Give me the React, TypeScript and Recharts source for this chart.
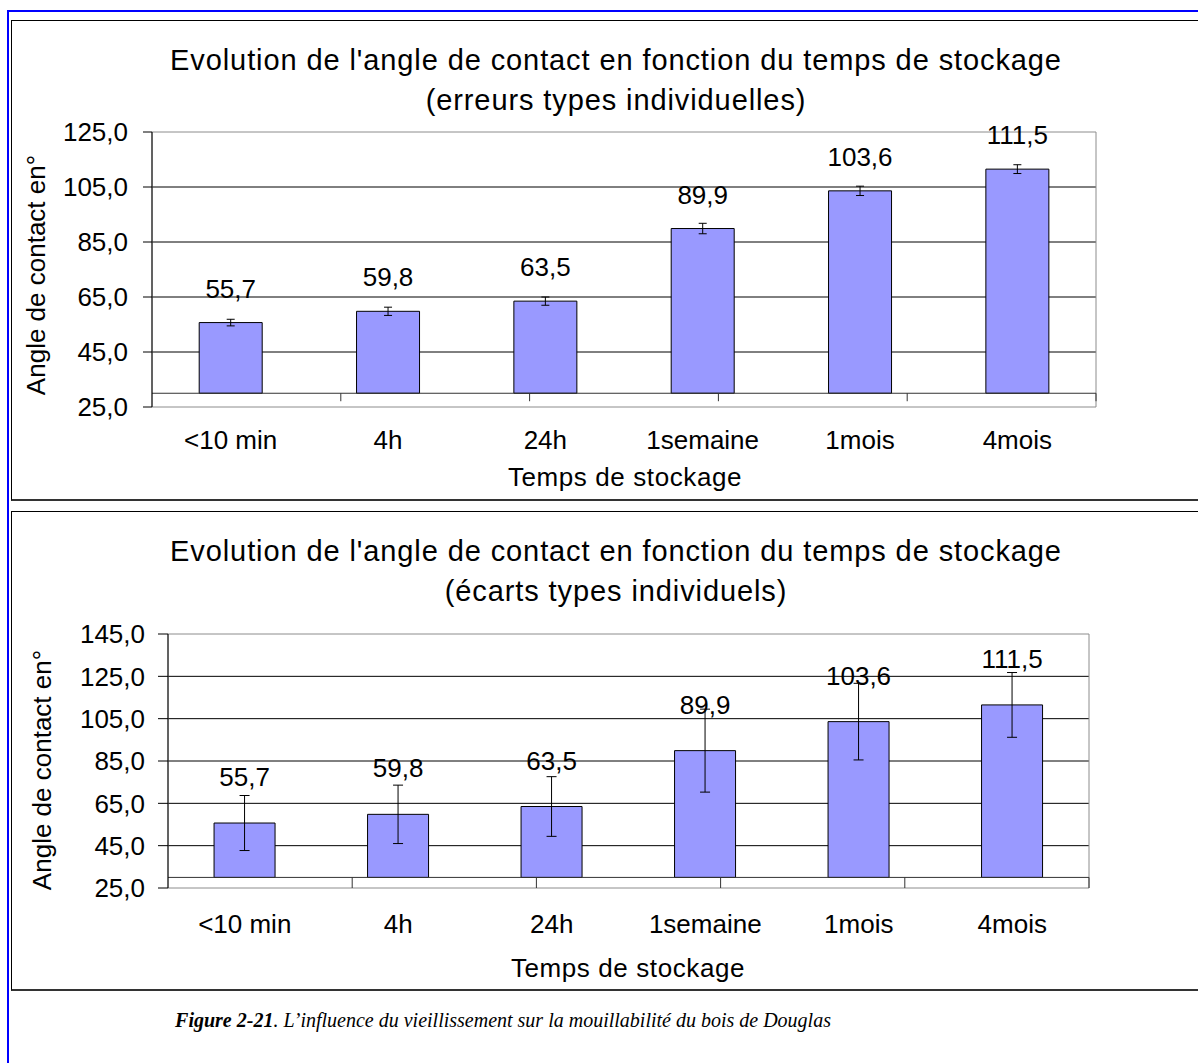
import {
  Bar,
  BarChart,
  CartesianGrid,
  ErrorBar,
  LabelList,
  ReferenceArea,
  ReferenceLine,
  XAxis,
  YAxis,
} from "recharts"

const categories = ["<10 min", "4h", "24h", "1semaine", "1mois", "4mois"]
const angles = [55.7, 59.8, 63.5, 89.9, 103.6, 111.5]
// top chart: standard errors, bottom chart: standard deviations
const standardErrors = [1.2, 1.5, 1.5, 1.9, 1.7, 1.6]
const standardDeviations = [13.0, 13.8, 14.1, 19.6, 18.1, 15.3]
const axisCrossing = 30
const topTicks = [25, 45, 65, 85, 105, 125]
const bottomTicks = [25, 45, 65, 85, 105, 125, 145]

const sans = '"Liberation Sans", Arial, sans-serif'
const serif = '"Liberation Serif", "Times New Roman", serif'

const formatAngle = (v: unknown) => Number(v).toFixed(1).replace(".", ",")

type AngleChartProps = {
  errors: number[]
  ticks: number[]
  height: number
  margin: { top: number; right: number; bottom: number; left: number }
  yTickSize: number
  yTickMargin: number
  xTickMargin: number
  labelOffset: number
  capWidth: number
  tickDrop: number
}

function AngleChart({
  errors,
  ticks,
  height,
  margin,
  yTickSize,
  yTickMargin,
  xTickMargin,
  labelOffset,
  capWidth,
  tickDrop,
}: AngleChartProps) {
  const data = categories.map((name, i) => ({
    name,
    range: [axisCrossing, angles[i]],
    angle: angles[i],
    err: errors[i],
  }))
  const boundaries = categories.map((_, i) => i + 1)
  const lo = ticks[0]
  const hi = ticks[ticks.length - 1]

  return (
    <BarChart
      width={1187}
      height={height}
      data={data}
      margin={margin}
      barCategoryGap="30%"
    >
      <CartesianGrid
        vertical={false}
        horizontalValues={ticks.slice(1, -1)}
        stroke="#000"
      />
      <ReferenceArea
        y1={lo}
        y2={hi}
        fill="none"
        stroke="#8c8c8c"
        ifOverflow="visible"
      />
      <XAxis
        dataKey="name"
        axisLine={false}
        tickLine={false}
        tickSize={0}
        tickMargin={xTickMargin}
        height={60}
        interval={0}
        tick={{ fontSize: 26, fill: "#000", fontFamily: sans }}
      />
      <XAxis
        xAxisId="n"
        type="number"
        domain={[0, categories.length]}
        allowDataOverflow
        hide
      />
      <YAxis
        domain={[lo, hi]}
        ticks={ticks}
        interval={0}
        allowDataOverflow
        width={100}
        tickSize={yTickSize}
        tickMargin={yTickMargin}
        axisLine={{ stroke: "#000" }}
        tickLine={{ stroke: "#000" }}
        tickFormatter={formatAngle}
        tick={{ fontSize: 26, fill: "#000", fontFamily: sans }}
      />
      <ReferenceLine y={axisCrossing} stroke="#333" />
      {boundaries.map(b => (
        <ReferenceLine
          key={b}
          xAxisId="n"
          segment={[
            { x: b, y: axisCrossing },
            { x: b, y: axisCrossing - tickDrop },
          ]}
          stroke="#333"
          ifOverflow="visible"
        />
      ))}
      <Bar
        dataKey="range"
        fill="#9999ff"
        stroke="#000"
        strokeWidth={1}
        isAnimationActive={false}
      >
        <ErrorBar
          dataKey="err"
          direction="y"
          width={capWidth}
          stroke="#000"
          strokeWidth={1}
          isAnimationActive={false}
        />
        <LabelList
          dataKey="angle"
          position="top"
          offset={labelOffset}
          formatter={formatAngle}
          fill="#000"
          fontSize={26}
          fontFamily={sans}
        />
      </Bar>
    </BarChart>
  )
}

const abs = (left: number, top: number, extra = {}) => ({
  position: "absolute" as const,
  left,
  top,
  ...extra,
})

function Title({ top, lines }: { top: number; lines: string[] }) {
  return (
    <div
      style={abs(11, top, {
        width: 1210,
        textAlign: "center",
        fontSize: 29,
        letterSpacing: "0.9px",
        lineHeight: "40px",
        fontFamily: sans,
        color: "#000",
      })}
    >
      {lines.map(l => (
        <div key={l}>{l}</div>
      ))}
    </div>
  )
}

function AxisTitle({ cx, cy, text, rotate }: { cx: number; cy: number; text: string; rotate?: boolean }) {
  return (
    <div
      style={abs(cx - 200, cy - 15, {
        width: 400,
        height: 30,
        lineHeight: "30px",
        textAlign: "center",
        fontSize: 26,
        letterSpacing: rotate ? undefined : "0.6px",
        fontFamily: sans,
        color: "#000",
        whiteSpace: "nowrap",
        transform: rotate ? "rotate(-90deg)" : undefined,
      })}
    >
      {text}
    </div>
  )
}

export default function App() {
  return (
    <div
      style={abs(0, 0, {
        width: 1198,
        height: 1063,
        overflow: "hidden",
        background: "#fff",
      })}
    >
      <div
        style={abs(7, 10, {
          width: 1400,
          height: 1400,
          border: "2px solid #0000ff",
          boxSizing: "border-box",
        })}
      />
      <div
        style={abs(11, 20, {
          width: 1400,
          height: 481,
          borderTop: "1px solid #000",
          borderLeft: "1px solid #000",
          borderBottom: "2px solid #333",
          boxSizing: "border-box",
        })}
      />
      <div
        style={abs(11, 511, {
          width: 1400,
          height: 480,
          borderTop: "1px solid #000",
          borderLeft: "1px solid #000",
          borderBottom: "2px solid #333",
          boxSizing: "border-box",
        })}
      />

      <Title
        top={40}
        lines={[
          "Evolution de l'angle de contact en fonction du temps de stockage",
          "(erreurs types individuelles)",
        ]}
      />
      <div style={abs(11, 20)}>
        <AngleChart
          errors={standardErrors}
          ticks={topTicks}
          height={480}
          margin={{ top: 112, right: 102, bottom: 33, left: 41 }}
          yTickSize={9}
          yTickMargin={15}
          xTickMargin={24}
          labelOffset={25}
          capWidth={4}
          tickDrop={2.9}
        />
      </div>
      <AxisTitle cx={36} cy={275} text="Angle de contact en°" rotate />
      <AxisTitle cx={625} cy={477} text="Temps de stockage" />

      <Title
        top={531}
        lines={[
          "Evolution de l'angle de contact en fonction du temps de stockage",
          "(écarts types individuels)",
        ]}
      />
      <div style={abs(11, 511)}>
        <AngleChart
          errors={standardDeviations}
          ticks={bottomTicks}
          height={479}
          margin={{ top: 123, right: 109, bottom: 42, left: 57 }}
          yTickSize={10}
          yTickMargin={13}
          xTickMargin={27}
          labelOffset={37}
          capWidth={5}
          tickDrop={5}
        />
      </div>
      <AxisTitle cx={42} cy={770} text="Angle de contact en°" rotate />
      <AxisTitle cx={628} cy={968} text="Temps de stockage" />

      <div
        style={abs(11, 1005, {
          width: 984,
          textAlign: "center",
          fontFamily: serif,
          fontStyle: "italic",
          fontSize: 20,
          lineHeight: "30px",
          color: "#000",
        })}
      >
        <b>Figure 2-21</b>. L’influence du vieillissement sur la mouillabilité du bois de Douglas
      </div>
    </div>
  )
}
